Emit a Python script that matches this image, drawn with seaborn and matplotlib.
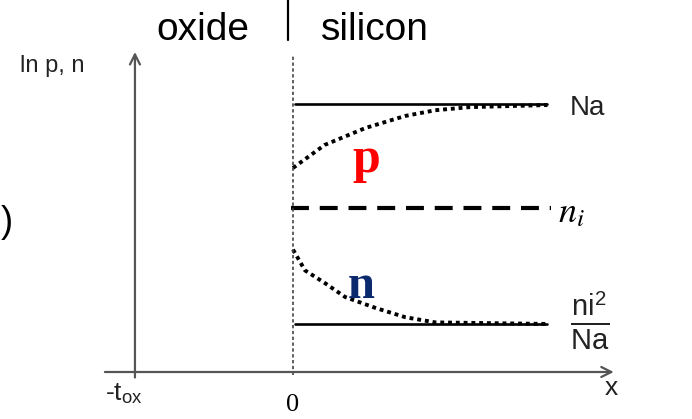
import numpy as np
import pandas as pd
import seaborn as sns
import matplotlib.pyplot as plt

# levels on a ln scale (ni taken as reference 0)
level_names = ['Na', 'ni', 'ni2/Na']
level_vals = [1.0, 0.0, -1.115]
line_x = [0.01, 1.61]
ni_x = [-0.01, 1.63]

# hole / electron profiles
p_x = [0.0, 0.20, 0.46, 0.71, 0.90, 1.12, 1.61]
p_y = [0.385, 0.606, 0.77, 0.885, 0.94, 0.97, 0.99]
n_x = [0.0, 0.076, 0.20, 0.33, 0.52, 0.71, 0.90, 1.61]
n_y = [-0.40, -0.60, -0.72, -0.856, -0.96, -1.05, -1.10, -1.115]

t_ox = -1.0
x_axis_y = -1.577

sns.set_theme(style='white')
plt.rcParams['font.family'] = ['Liberation Sans', 'DejaVu Sans']
plt.rcParams['mathtext.fontset'] = 'stix'
plt.rcParams['text.color'] = 'black'

fig = plt.figure(figsize=(6.92, 4.19), dpi=100)
ax = fig.add_axes([0, 0, 1, 1])
ax.set_xlim(-1.854, 2.525)
ax.set_ylim(-2.029, 2.0)
ax.axis('off')

df_p = pd.DataFrame({'x': p_x, 'y': p_y})
df_n = pd.DataFrame({'x': n_x, 'y': n_y})

# solid Na and ni^2/Na levels
for val in [level_vals[0], level_vals[2]]:
    sns.lineplot(x=line_x, y=[val, val], color='black', lw=1.9, ax=ax)
# dashed ni
sns.lineplot(x=ni_x, y=[level_vals[1]] * 2, color='black', lw=3.0, ax=ax)
ax.lines[-1].set_dashes((4.3, 2.6))

sns.lineplot(data=df_p, x='x', y='y', color='black', lw=2.8, ax=ax, sort=False)
ax.lines[-1].set_dashes((1.0, 1.0))
sns.lineplot(data=df_n, x='x', y='y', color='black', lw=2.8, ax=ax, sort=False)
ax.lines[-1].set_dashes((1.0, 1.0))

# oxide / silicon interface
ax.plot([0, 0], [-1.61, 1.47], color='#444444', lw=1.2, ls=(0, (2, 1.5)))
ax.axvline(-0.03, ymin=0.905, ymax=1.0, color='black', lw=1.6)

# axes with open arrowheads
arrow = dict(arrowstyle='->', color='#555555', lw=1.6, mutation_scale=18,
             shrinkA=0, shrinkB=0)
ax.annotate('', xy=(t_ox, 1.5), xytext=(t_ox, -1.63), arrowprops=arrow)
ax.annotate('', xy=(2.03, x_axis_y), xytext=(-1.19, x_axis_y), arrowprops=arrow)

# labels
ax.text(-0.57, 1.615, 'oxide', fontsize=28, ha='center', va='baseline')
ax.text(0.18, 1.615, 'silicon', fontsize=28, ha='left', va='baseline')
ax.text(-1.728, 1.31, 'ln p, n', fontsize=17, ha='left', va='baseline',
        color='#222222')
ax.text(1.753, 0.894, 'Na', fontsize=20, ha='left', va='baseline',
        color='#222222')
ax.text(1.68, -0.135, r'$n_i$', fontsize=26, ha='left', va='baseline')
ax.text(1.88, -1.087,
        r'$\frac{\mathregular{ni}^{\mathregular{2}}}{\mathregular{Na}}$',
        fontsize=30, ha='center', va='center', color='#222222')
ax.text(0.373, 0.346, 'p', fontsize=36, fontweight='bold', color='#ff0000',
        family='Liberation Serif', ha='left', va='baseline')
ax.text(0.348, -0.865, 'n', fontsize=35, fontweight='bold', color='#0b2a6e',
        family='Liberation Serif', ha='left', va='baseline')
ax.text(-1.19, -1.846, r'-t$_\mathregular{ox}$', fontsize=19, ha='left',
        va='baseline', color='#222222')
ax.text(0.0, -1.95, '0', fontsize=19, family='Liberation Serif', ha='center',
        va='baseline')
ax.text(1.97, -1.80, 'x', fontsize=19, ha='left', va='baseline',
        color='#222222')
ax.text(-1.85, -0.23, ')', fontsize=26, ha='left', va='baseline')

plt.savefig('out.png', dpi=100)
